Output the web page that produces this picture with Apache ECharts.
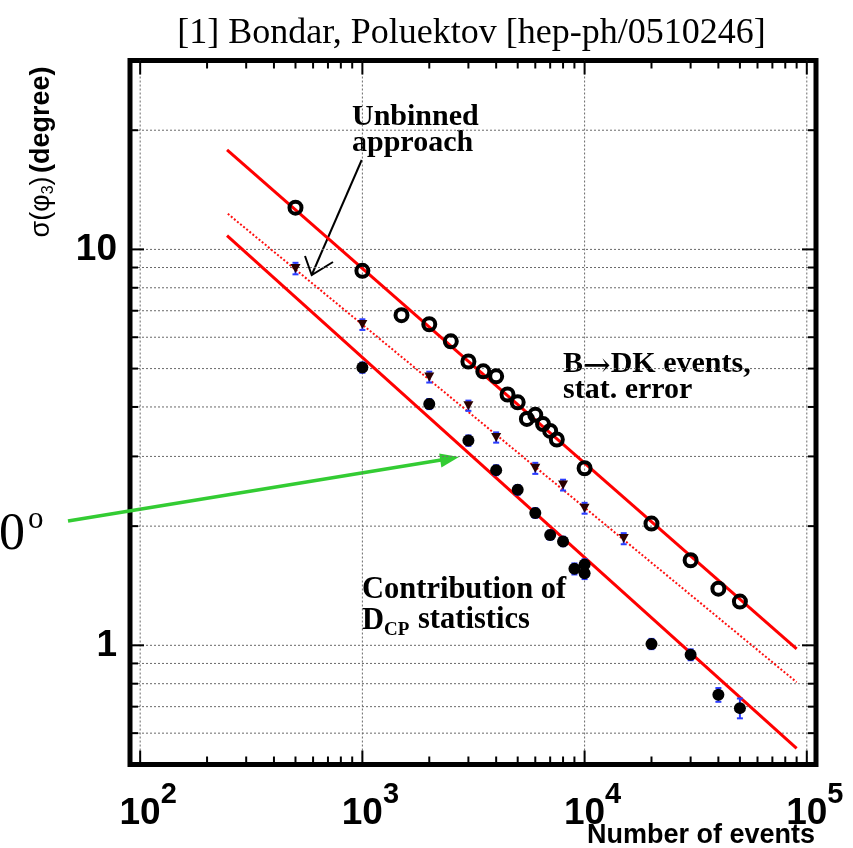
<!DOCTYPE html>
<html><head><meta charset="utf-8">
<script src="https://cdn.jsdelivr.net/npm/echarts@6/dist/echarts.min.js"></script>
<style>html,body{margin:0;padding:0;background:#fff}#c{width:853px;height:848px}</style>
</head><body><div id="c"></div>
<script>
// ---- data ----
const nOpen = [500,1000,1500,2000,2500,3000,3500,4000,4500,5000,5500,6000,6500,7000,7500,10000,20000,30000,40000,50000];
const sigmaOpen = [12.75,8.83,6.82,6.47,5.86,5.21,4.92,4.78,4.30,4.11,3.73,3.82,3.62,3.48,3.31,2.80,2.03,1.64,1.39,1.29];

const nTri = [500,1000,2000,3000,4000,6000,8000,10000,15000];
const sigmaTri = [8.95,6.46,4.76,4.03,3.35,2.80,2.54,2.22,1.86];
const errTri = [0.30,0.20,0.15,0.12,0.10,0.09,0.08,0.07,0.06];

const nDot = [1000,2000,3000,4000,5000,6000,7000,8000,9000,10000,10000,20000,30000,40000,50000];
const sigmaDot = [5.03,4.07,3.29,2.77,2.47,2.16,1.90,1.83,1.56,1.60,1.52,1.008,0.947,0.75,0.694];
const errDot = [0.15,0.12,0.10,0.08,0.07,0.06,0.05,0.05,0.05,0.05,0.05,0.03,0.03,0.03,0.04];

const fitUpper = [[246,17.85],[90000,0.98]];
const fitUnbinned = [[248,12.3],[90000,0.807]];
const fitLower = [[246,10.83],[90000,0.549]];

const xRange = [90, 110000];
const yRange = [0.5, 30];
const xGridVals = [100,1000,10000,100000];
const yGridVals = [0.6,0.7,0.8,0.9,1,2,3,4,5,6,7,8,9,10,20];
const xMajorTicks = [100,1000,10000,100000];
const xMinorTicks = [200,300,400,500,600,700,800,900,2000,3000,4000,5000,6000,7000,8000,9000,20000,30000,40000,50000,60000,70000,80000,90000];
const yMajorTicks = [1,10];
const yMinorTicks = [0.6,0.7,0.8,0.9,2,3,4,5,6,7,8,9,20];

const titleText = '[1] Bondar, Poluektov [hep-ph/0510246]';
const xName = 'Number of events';

// ---- chart ----
const SANS = '"Liberation Sans", Arial, Helvetica, sans-serif';
const SERIF = '"Liberation Serif", "Times New Roman", Times, serif';
const chart = echarts.init(document.getElementById('c'), null, {renderer:'canvas'});

const isPow10 = v => { const e = Math.log10(v); return Math.abs(e - Math.round(e)) < 1e-6; };

const gridData = xGridVals.map(v => [v, yRange[0], 0]).concat(yGridVals.map(v => [xRange[0], v, 1]));
const tickData = xMajorTicks.map(v => [v, yRange[0], 2])
  .concat(xMinorTicks.map(v => [v, yRange[0], 3]))
  .concat(yMajorTicks.map(v => [xRange[0], v, 4]))
  .concat(yMinorTicks.map(v => [xRange[0], v, 5]));

function renderGrid(params, api) {
  const k = api.value(2);
  const bl = api.coord([xRange[0], yRange[0]]);
  const tr = api.coord([xRange[1], yRange[1]]);
  const st = {stroke:'#6a6a6a', lineWidth:1, lineDash:[2,2]};
  if (k === 0) {
    const p = api.coord([api.value(0), yRange[0]]);
    return {type:'line', shape:{x1:p[0], y1:tr[1], x2:p[0], y2:bl[1]}, style:st};
  }
  const p = api.coord([xRange[0], api.value(1)]);
  return {type:'line', shape:{x1:bl[0], y1:p[1], x2:tr[0], y2:p[1]}, style:st};
}
function renderTicks(params, api) {
  const k = api.value(2);
  const bl = api.coord([xRange[0], yRange[0]]);
  const tr = api.coord([xRange[1], yRange[1]]);
  const st = {stroke:'#000', lineWidth:2};
  if (k === 2 || k === 3) {
    const len = k === 2 ? 14 : 8;
    const p = api.coord([api.value(0), yRange[0]]);
    return {type:'group', children:[
      {type:'line', shape:{x1:p[0], y1:bl[1], x2:p[0], y2:bl[1]-len}, style:st},
      {type:'line', shape:{x1:p[0], y1:tr[1], x2:p[0], y2:tr[1]+len}, style:st}
    ]};
  }
  const len = k === 4 ? 14 : 8;
  const p = api.coord([xRange[0], api.value(1)]);
  return {type:'group', children:[
    {type:'line', shape:{x1:bl[0], y1:p[1], x2:bl[0]+len, y2:p[1]}, style:st},
    {type:'line', shape:{x1:tr[0], y1:p[1], x2:tr[0]-len, y2:p[1]}, style:st}
  ]};
}
function renderErr(params, api) {
  const x = api.value(0), y = api.value(1), e = api.value(2);
  const a = api.coord([x, y + e]);
  const b = api.coord([x, y - e]);
  const st = {stroke:'#2a3cff', lineWidth:2};
  return {type:'group', children:[
    {type:'line', shape:{x1:a[0], y1:a[1], x2:b[0], y2:b[1]}, style:st},
    {type:'line', shape:{x1:a[0]-3, y1:a[1], x2:a[0]+3, y2:a[1]}, style:st},
    {type:'line', shape:{x1:b[0]-3, y1:b[1], x2:b[0]+3, y2:b[1]}, style:st}
  ]};
}

const option = {
  animation: false,
  backgroundColor: '#fff',
  grid: {left:130, right:37, top:60.5, bottom:83.5, show:true, borderColor:'#000', borderWidth:5, backgroundColor:'#fff'},
  xAxis: {
    type:'log', logBase:10, min:xRange[0], max:xRange[1],
    axisLine:{show:false}, axisTick:{show:false}, splitLine:{show:false},
    axisLabel:{
      margin:16, hideOverlap:false, showMinLabel:true, showMaxLabel:true,
      formatter: v => isPow10(v) ? '{b|10}{s|' + Math.round(Math.log10(v)) + '}' : '',
      rich:{
        b:{fontSize:37, fontWeight:'bold', fontFamily:SANS, color:'#000', lineHeight:66, padding:[0,0,0,16]},
        s:{fontSize:29, fontWeight:'bold', fontFamily:SANS, color:'#000', verticalAlign:'top'}
      }
    }
  },
  yAxis: {
    type:'log', logBase:10, min:yRange[0], max:yRange[1],
    axisLine:{show:false}, axisTick:{show:false}, splitLine:{show:false},
    axisLabel:{
      margin:13, hideOverlap:false, fontSize:37, fontWeight:'bold', fontFamily:SANS, color:'#000',
      formatter: v => isPow10(v) ? String(Math.round(Math.pow(10, Math.round(Math.log10(v))))) : ''
    }
  },
  series: [
    {type:'custom', name:'grid', renderItem:renderGrid, data:gridData, silent:true, z:1, encode:{x:0, y:1}},
    {type:'line', name:'fit upper', data:fitUpper, showSymbol:false, symbol:'none', lineStyle:{color:'#ff0000', width:3}, z:2, silent:true},
    {type:'line', name:'fit unbinned', data:fitUnbinned, showSymbol:false, symbol:'none', lineStyle:{color:'#ff1010', width:2, type:[2,2]}, z:2, silent:true},
    {type:'line', name:'fit lower', data:fitLower, showSymbol:false, symbol:'none', lineStyle:{color:'#ff0000', width:3}, z:2, silent:true},
    {type:'custom', name:'err tri', renderItem:renderErr, data:nTri.map((n,i)=>[n, sigmaTri[i], errTri[i]]), z:3, encode:{x:0, y:1}},
    {type:'custom', name:'err dot', renderItem:renderErr, data:nDot.map((n,i)=>[n, sigmaDot[i], errDot[i]]), z:3, encode:{x:0, y:1}},
    {type:'scatter', name:'B->DK', data:nOpen.map((n,i)=>[n, sigmaOpen[i]]), symbol:'circle', symbolSize:12,
      itemStyle:{color:'rgba(0,0,0,0)', borderColor:'#000', borderWidth:4, opacity:1}, z:4},
    {type:'scatter', name:'unbinned', data:nTri.map((n,i)=>[n, sigmaTri[i]]), symbol:'triangle', symbolRotate:180, symbolSize:[10,9],
      itemStyle:{color:'#2a0000', opacity:1}, z:4},
    {type:'scatter', name:'DCP', data:nDot.map((n,i)=>[n, sigmaDot[i]]), symbol:'circle', symbolSize:12,
      itemStyle:{color:'#000', opacity:1}, z:4},
    {type:'custom', name:'ticks', renderItem:renderTicks, data:tickData, silent:true, z:5, encode:{x:0, y:1}}
  ],
  graphic: [
    {type:'text', x:471.5, y:34, style:{text:titleText, fontFamily:SERIF, fontSize:36, fill:'#000', align:'center', verticalAlign:'middle'}},
    {type:'text', x:42, y:152, rotation:Math.PI/2, style:{
      text:'{g|σ(φ}{s|3}{g|)} {a|(degree)}', align:'center', verticalAlign:'middle',
      rich:{a:{fontSize:27, fontWeight:'bold', fontFamily:SANS, fill:'#000', lineHeight:30},
            g:{fontSize:27, fontFamily:SANS, fill:'#000', lineHeight:30},
            s:{fontSize:16, fontFamily:SANS, fill:'#000', verticalAlign:'bottom'}}
    }},
    {type:'text', x:815, y:836, style:{text:xName, fontFamily:SANS, fontWeight:'bold', fontSize:27, fill:'#000', align:'right', verticalAlign:'middle'}},
    // annotations
    {type:'text', x:352, y:117, style:{text:'Unbinned', fontFamily:SERIF, fontWeight:'bold', fontSize:30, fill:'#000', verticalAlign:'middle'}},
    {type:'text', x:352, y:143, style:{text:'approach', fontFamily:SERIF, fontWeight:'bold', fontSize:30, fill:'#000', verticalAlign:'middle'}},
    {type:'text', x:563, y:364, style:{
      text:'{t|B}{r|→}{t|DK events,}', verticalAlign:'middle',
      rich:{t:{fontFamily:SERIF, fontWeight:'bold', fontSize:30, fill:'#000'},
            r:{fontFamily:'"DejaVu Serif", serif', fontSize:33, fill:'#000', padding:[6,0,0,0]}}
    }},
    {type:'text', x:563, y:390, style:{text:'stat. error', fontFamily:SERIF, fontWeight:'bold', fontSize:30, fill:'#000', verticalAlign:'middle'}},
    {type:'text', x:362, y:590, style:{text:'Contribution of', fontFamily:SERIF, fontWeight:'bold', fontSize:30.5, fill:'#000', verticalAlign:'middle'}},
    {type:'text', x:362, y:621, style:{text:'D', fontFamily:SERIF, fontWeight:'bold', fontSize:30.5, fill:'#000', verticalAlign:'middle'}},
    {type:'text', x:384, y:630, style:{text:'CP', fontFamily:SERIF, fontWeight:'bold', fontSize:19, fill:'#000', verticalAlign:'middle'}},
    {type:'text', x:418, y:620, style:{text:'statistics', fontFamily:SERIF, fontWeight:'bold', fontSize:30.5, fill:'#000', verticalAlign:'middle'}},
    {type:'text', x:-1, y:535, style:{text:'0', fontFamily:SERIF, fontSize:52, fill:'#000', verticalAlign:'middle'}},
    {type:'text', x:28, y:520, style:{text:'o', fontFamily:SERIF, fontSize:31, fill:'#000', verticalAlign:'middle'}},
    // black arrow
    {type:'line', shape:{x1:361.7, y1:160, x2:311.7, y2:275}, style:{stroke:'#000', lineWidth:2}},
    {type:'polyline', shape:{points:[[305,256],[311.7,275],[333,262]]}, style:{stroke:'#000', lineWidth:2, fill:null}},
    // green arrow
    {type:'line', shape:{x1:68, y1:521, x2:441, y2:460}, style:{stroke:'#33cc33', lineWidth:3.5}},
    {type:'polygon', shape:{points:[[459,457],[441.4,467.4],[439.2,453.4]]}, style:{fill:'#33cc33'}}
  ]
};
chart.setOption(option);
</script>
</body></html>
